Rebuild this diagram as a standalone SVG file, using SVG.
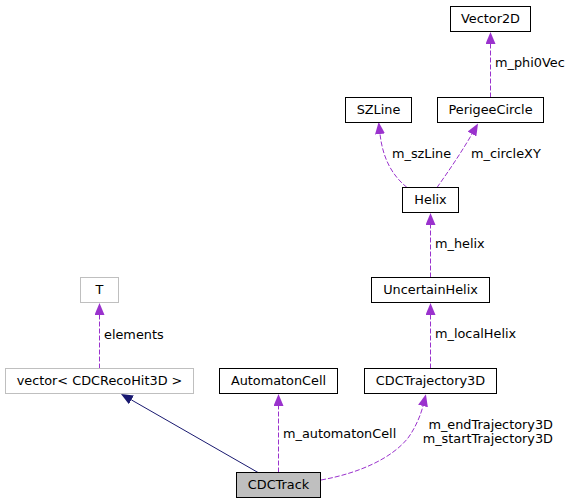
<svg xmlns="http://www.w3.org/2000/svg" width="572" height="504" viewBox="0 0 572 504">
<style>
text{font-family:"DejaVu Sans","Liberation Sans",sans-serif;font-size:12.85px;fill:#000}
.n{text-anchor:middle}
.box{fill:#fff;stroke:#000;stroke-width:1}
.gbox{fill:#fff;stroke:#bfbfbf;stroke-width:1}
.cur{fill:#bfbfbf;stroke:#000;stroke-width:1}
.use{fill:none;stroke:#9a32cd;stroke-width:1;stroke-dasharray:5,2;marker-end:url(#ap)}
.inh{fill:none;stroke:#191970;stroke-width:1;marker-end:url(#an)}
</style>
<defs>
<marker id="ap" viewBox="0 0 12 10" refX="0" refY="5" markerWidth="12" markerHeight="10" markerUnits="userSpaceOnUse" orient="auto">
<path d="M0,0 L12,5 L0,10 z" fill="#9a32cd"/>
</marker>
<marker id="an" viewBox="0 0 12 10" refX="0" refY="5" markerWidth="12" markerHeight="10" markerUnits="userSpaceOnUse" orient="auto">
<path d="M0,0 L12,5 L0,10 z" fill="#191970"/>
</marker>
</defs>
<g id="edges">
<path class="use" d="M99.5,368.5 L99.5,315"/>
<text x="104" y="339">elements</text>
<path class="inh" d="M258,472.5 L131.4,399.9"/>
<path class="use" d="M278.5,472.5 L278.5,406"/>
<text x="283" y="438">m_automatonCell</text>
<path class="use" d="M321,480 C360,473 392,458 408,438 C416,427 421,414 423,406"/>
<text x="553" y="429" text-anchor="end">m_endTrajectory3D</text>
<text x="553" y="443" text-anchor="end">m_startTrajectory3D</text>
<path class="use" d="M430.5,368.5 L430.5,315"/>
<text x="435" y="338">m_localHelix</text>
<path class="use" d="M430.5,277.5 L430.5,225"/>
<text x="435" y="248">m_helix</text>
<path class="use" d="M407,187.5 C393,176 383,160 380,134"/>
<text x="392" y="158">m_szLine</text>
<path class="use" d="M437,187.5 C448,172 461,153 472,134"/>
<text x="471" y="158">m_circleXY</text>
<path class="use" d="M490.5,97.5 L490.5,44"/>
<text x="495" y="67">m_phi0Vec</text>
</g>
<g id="Vector2D"><rect class="box" x="450.5" y="6.5" width="80" height="25"/><text class="n" x="490.5" y="23">Vector2D</text></g>
<g id="SZLine"><rect class="box" x="345.5" y="97.5" width="66" height="25"/><text class="n" x="378.5" y="114">SZLine</text></g>
<g id="PerigeeCircle"><rect class="box" x="437.5" y="97.5" width="106" height="25"/><text class="n" x="490.5" y="114">PerigeeCircle</text></g>
<g id="Helix"><rect class="box" x="402.5" y="187.5" width="56" height="25"/><text class="n" x="430.5" y="204">Helix</text></g>
<g id="UncertainHelix"><rect class="box" x="371.5" y="277.5" width="118" height="25"/><text class="n" x="430.5" y="294">UncertainHelix</text></g>
<g id="T"><rect class="gbox" x="80.5" y="277.5" width="38" height="25"/><text class="n" x="99.5" y="294">T</text></g>
<g id="vector"><rect class="gbox" x="5.5" y="368.5" width="188" height="25"/><text class="n" x="99.5" y="385">vector&lt; CDCRecoHit3D &gt;</text></g>
<g id="AutomatonCell"><rect class="box" x="219.5" y="368.5" width="118" height="25"/><text class="n" x="278.5" y="385">AutomatonCell</text></g>
<g id="CDCTrajectory3D"><rect class="box" x="364.5" y="368.5" width="132" height="25"/><text class="n" x="430.5" y="385">CDCTrajectory3D</text></g>
<g id="CDCTrack"><rect class="cur" x="236.5" y="472.5" width="84" height="25"/><text class="n" x="278.5" y="489">CDCTrack</text></g>
</svg>
